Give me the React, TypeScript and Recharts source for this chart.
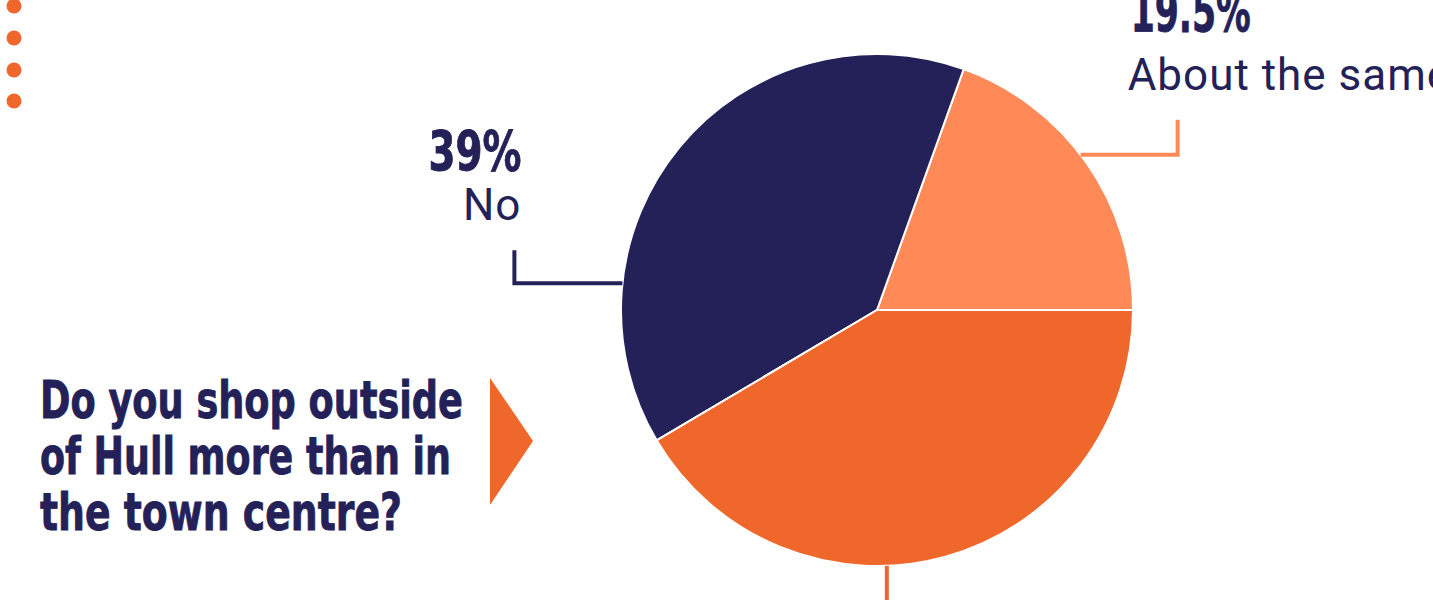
import { PieChart, Pie, Cell } from "recharts";

const categories = ["About the same", "No", "Yes"];
const shares = [19.5, 39, 41.5];
const valueLabels = ["19.5%", "39%", "41.5%"];
const titleLines = ["Do you shop outside", "of Hull more than in", "the town centre?"];

const COLORS = ["#FF8A57", "#232158", "#EF672A"];
const NAVY = "#232158";

const data = categories.map((name, i) => ({ name, value: shares[i] }));

// where each leader line leaves the pie (degrees, counter-clockwise from 3 o'clock)
const ANCHORS = [37.3, 174, 272.2];

const RAD = Math.PI / 180;

function renderLabel(props: any) {
  const { cx, cy, outerRadius, index } = props;
  const a = ANCHORS[index];
  const x0 = cx + outerRadius * Math.cos(a * RAD);
  const y0 = cy - outerRadius * Math.sin(a * RAD);
  const col = COLORS[index];

  if (index === 0) {
    const xe = x0 + 97;
    return (
      <g key="l0">
        <polyline points={`${x0},${y0} ${xe},${y0} ${xe},${y0 - 35}`} fill="none" stroke={col} strokeWidth={4} />
        <text x={xe - 47} y={y0 - 123} fill={NAVY} stroke={NAVY} strokeWidth={0.8} fontFamily="DejaVu Sans Condensed" fontWeight="bold" fontSize={57} textLength={120} lengthAdjust="spacingAndGlyphs">
          {valueLabels[0]}
        </text>
        <text x={xe - 50} y={y0 - 65} fill={NAVY} fontFamily="Roboto" fontSize={44} letterSpacing={1}>
          {categories[0]}
        </text>
      </g>
    );
  }
  if (index === 1) {
    const xe = x0 - 108;
    return (
      <g key="l1">
        <polyline points={`${x0},${y0} ${xe},${y0} ${xe},${y0 - 33}`} fill="none" stroke={col} strokeWidth={4} />
        <text x={xe + 7} y={y0 - 113} textAnchor="end" fill={NAVY} stroke={NAVY} strokeWidth={0.8} fontFamily="DejaVu Sans Condensed" fontWeight="bold" fontSize={56} textLength={93} lengthAdjust="spacingAndGlyphs">
          {valueLabels[1]}
        </text>
        <text x={xe + 7} y={y0 - 63} textAnchor="end" fill={NAVY} fontFamily="Roboto" fontSize={44} letterSpacing={1}>
          {categories[1]}
        </text>
      </g>
    );
  }
  return (
    <g key="l2">
      <line x1={x0} y1={y0} x2={x0} y2={y0 + 60} stroke={col} strokeWidth={4} />
    </g>
  );
}

export default function App() {
  return (
    <div style={{ position: "absolute", left: 0, top: 0, width: 1433, height: 600, background: "#fff", overflow: "hidden" }}>
      <svg width={1433} height={600} style={{ position: "absolute", left: 0, top: 0 }}>
        {[6, 38, 70, 101].map((y) => (
          <circle key={y} cx={14} cy={y} r={7.5} fill="#EF672A" />
        ))}
        {titleLines.map((t, i) => (
          <text
            key={t}
            x={40}
            y={418 + i * 56}
            fill={NAVY}
            stroke={NAVY}
            strokeWidth={0.8}
            fontFamily="DejaVu Sans Condensed"
            fontWeight="bold"
            fontSize={52}
            textLength={[423, 411, 362][i]}
            lengthAdjust="spacingAndGlyphs"
          >
            {t}
          </text>
        ))}
        <polygon points="490,378 533,441 490,505" fill="#EF672A" />
      </svg>
      <div style={{ position: "absolute", left: 0, top: 0 }}>
        <PieChart width={1433} height={600} margin={{ top: 0, right: 0, bottom: 0, left: 0 }}>
          <Pie
            data={data}
            dataKey="value"
            nameKey="name"
            cx={877}
            cy={310}
            outerRadius={256}
            startAngle={0}
            endAngle={360}
            stroke="#fff"
            strokeWidth={2}
            label={renderLabel}
            labelLine={false}
            isAnimationActive={false}
          >
            {data.map((_, i) => (
              <Cell key={i} fill={COLORS[i]} />
            ))}
          </Pie>
        </PieChart>
      </div>
    </div>
  );
}
